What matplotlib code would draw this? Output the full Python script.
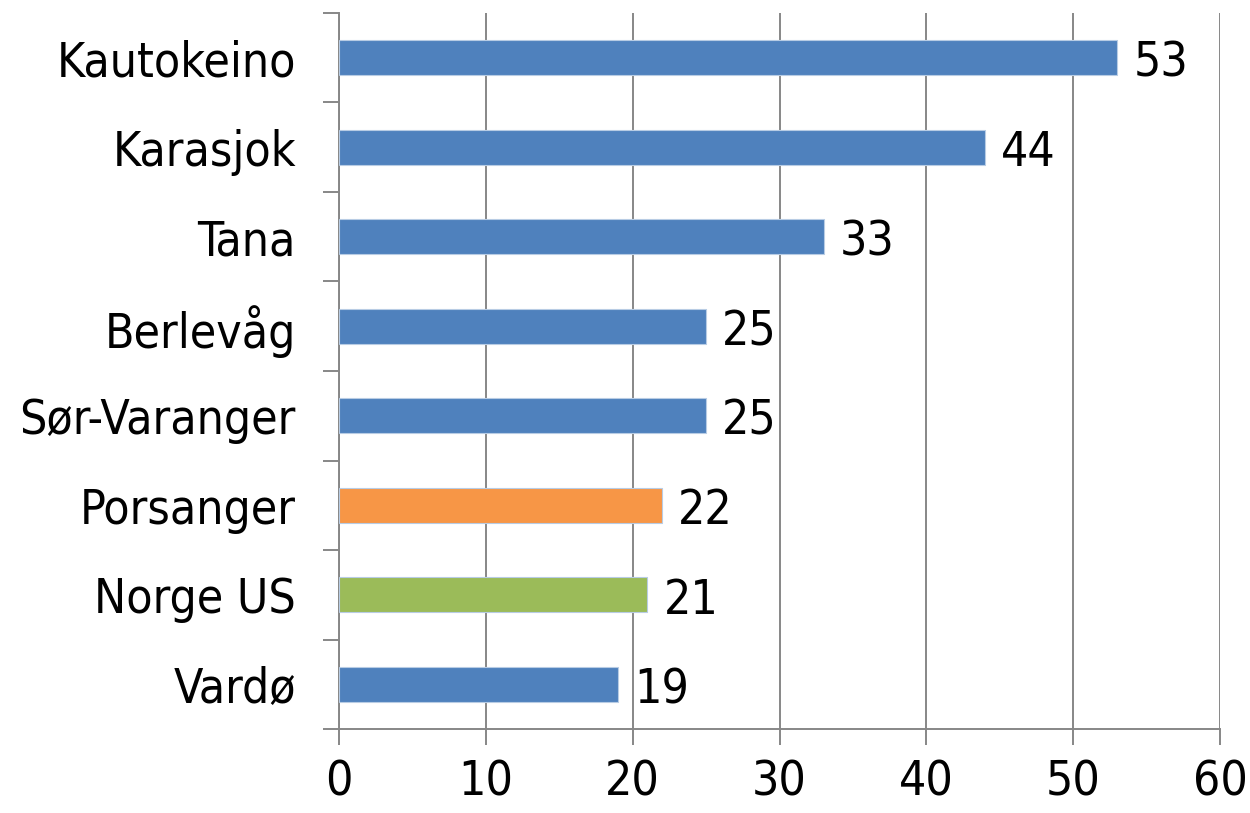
import numpy as np
import matplotlib
matplotlib.use('Agg')
import matplotlib.pyplot as plt
from matplotlib.ticker import FixedLocator, NullFormatter

# data, top to bottom as in the chart
places = ['Kautokeino', 'Karasjok', 'Tana', 'Berlevåg', 'Sør-Varanger',
          'Porsanger', 'Norge US', 'Vardø']
values = [53, 44, 33, 25, 25, 22, 21, 19]
colors = ['#4F81BD', '#4F81BD', '#4F81BD', '#4F81BD', '#4F81BD',
          '#F79646', '#9BBB59', '#4F81BD']
xticks = [0, 10, 20, 30, 40, 50, 60]

grey = '#878787'
fsize = 34.5

fig = plt.figure(figsize=(12.5, 8.13), dpi=100)
ax = fig.add_axes([339/1250, 1 - 729/813, (1220-339)/1250, (729-13)/813])

n = len(places)
ypos = np.arange(n)[::-1]
ax.barh(ypos, values, height=0.39, color=colors, edgecolor='#B8CCE4',
        linewidth=0.8, zorder=3)

for y, v in zip(ypos, values):
    ax.text(v + 1.1, y - 0.06, str(v), va='center', ha='left',
            fontsize=fsize, fontstretch='condensed')

ax.set_xlim(0, 60)
ax.set_ylim(-0.5, n - 0.5)

ax.set_xticks(xticks)
ax.set_xticklabels([str(t) for t in xticks], fontsize=fsize, fontstretch='condensed')
ax.xaxis.grid(True, color=grey, linewidth=1.4, zorder=0)
ax.tick_params(axis='x', length=11.5, width=1.4, color=grey, pad=9.5)

# category boundaries get the tick marks, names sit in between
ax.yaxis.set_major_locator(FixedLocator(np.arange(-0.5, n, 1.0)))
ax.yaxis.set_major_formatter(NullFormatter())
ax.yaxis.set_minor_locator(FixedLocator(ypos))
ax.set_yticklabels(places, minor=True, fontsize=fsize, fontstretch='condensed')
ax.tick_params(axis='y', which='major', length=11.5, width=1.4, color=grey)
ax.tick_params(axis='y', which='minor', length=0, pad=31)

for s in ['top', 'right']:
    ax.spines[s].set_visible(False)
for s in ['left', 'bottom']:
    ax.spines[s].set_color(grey)
    ax.spines[s].set_linewidth(1.4)

fig.savefig('out.png', dpi=100)
